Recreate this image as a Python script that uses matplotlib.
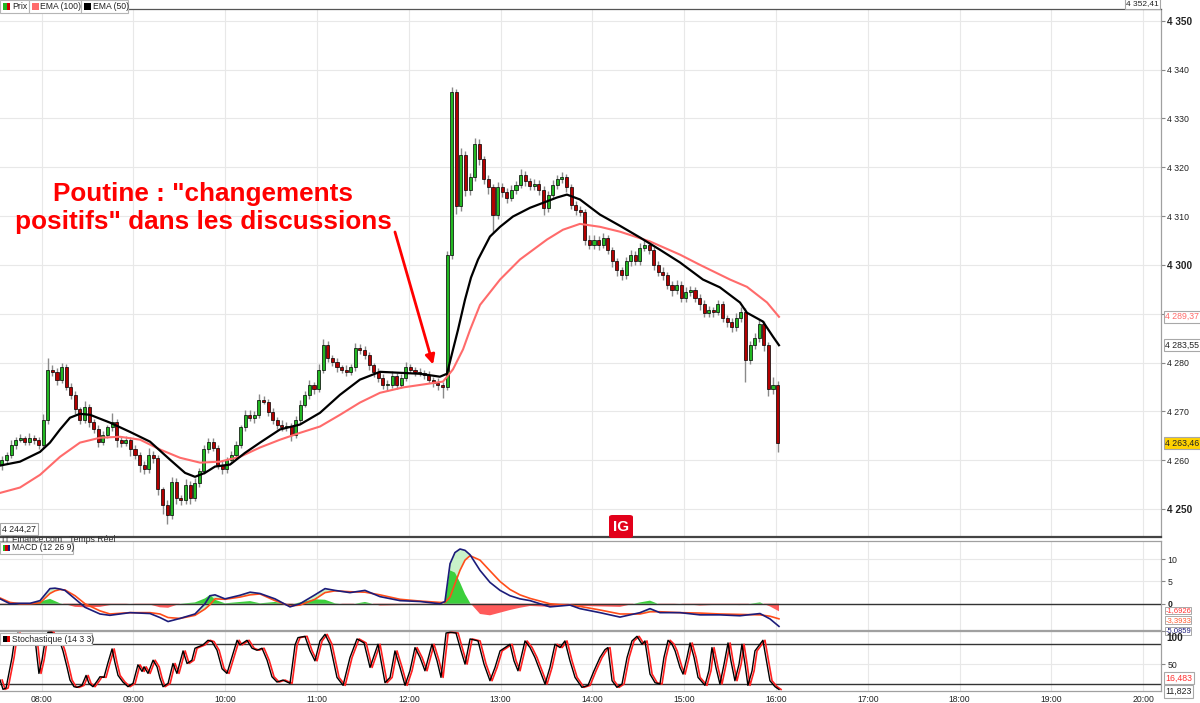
import matplotlib
matplotlib.use("Agg")
import matplotlib.pyplot as plt
import numpy as np
from matplotlib.patches import Rectangle, FancyBboxPatch
from matplotlib.transforms import ScaledTranslation

plt.rcParams["font.family"] = ["Liberation Sans", "DejaVu Sans"]

# all times are minutes after 07:30
candle_start = 4      # first candle 07:34
candle_step = 3       # minutes per candle
first_open = 4259.0
closes = [
    4260.1, 4261.1, 4263.2, 4264.2, 4264.6, 4263.8, 4264.6, 4264.2, 4263.2, 4268.3,
    4278.5, 4278.1, 4276.5, 4279.0, 4274.9, 4273.4, 4270.4, 4268.3, 4270.8, 4267.9,
    4266.3, 4263.8, 4265.2, 4266.7, 4267.9, 4264.2, 4263.6, 4264.2, 4262.2, 4261.1,
    4259.1, 4258.1, 4261.1, 4260.5, 4254.0, 4250.9, 4248.8, 4255.6, 4252.3, 4251.9,
    4255.0, 4252.3, 4255.4, 4257.7, 4262.2, 4263.8, 4262.6, 4259.1, 4258.1, 4260.1,
    4261.1, 4263.2, 4266.7, 4269.3, 4268.7, 4269.3, 4272.4, 4272.0, 4269.9, 4268.3,
    4267.3, 4266.7, 4267.1, 4265.2, 4268.3, 4271.4, 4273.4, 4275.5, 4274.5, 4278.5,
    4283.6, 4281.0, 4280.2, 4279.0, 4278.5, 4278.1, 4279.0, 4283.0, 4282.6, 4281.6,
    4279.5, 4278.1, 4276.9, 4275.5, 4275.5, 4277.3, 4275.5, 4276.9, 4279.0, 4278.5,
    4278.1, 4277.9, 4277.5, 4276.5, 4275.9, 4275.5, 4274.9, 4302.1, 4335.5, 4312.0,
    4322.5, 4315.4, 4317.9, 4324.7, 4321.6, 4317.5, 4315.9, 4310.3, 4315.9, 4315.0,
    4313.8, 4315.4, 4316.4, 4318.5, 4317.1, 4316.2, 4316.6, 4315.4, 4311.7, 4314.4,
    4316.4, 4317.5, 4317.9, 4315.9, 4312.3, 4311.3, 4310.9, 4305.2, 4304.1, 4305.2,
    4304.1, 4305.5, 4303.1, 4300.7, 4299.0, 4298.0, 4300.7, 4302.1, 4300.7, 4303.5,
    4304.1, 4303.1, 4300.0, 4298.6, 4298.0, 4295.9, 4294.9, 4295.9, 4293.3, 4294.5,
    4294.9, 4293.3, 4291.9, 4290.2, 4290.8, 4290.4, 4291.9, 4289.2, 4288.4, 4287.2,
    4289.2, 4290.4, 4280.6, 4283.6, 4285.1, 4287.8, 4283.6, 4274.5, 4275.5, 4263.46,
]
wick_up = [
    0.8, 0.6, 1.0, 0.5, 0.7, 0.4, 0.9, 0.5, 0.6, 1.2,
    2.5, 1.0, 0.8, 1.0, 0.6, 0.9, 0.7, 0.5, 1.4, 0.8,
    0.6, 0.9, 0.7, 0.5, 1.8, 0.6, 0.8, 0.7, 0.5, 0.9,
    0.6, 0.8, 1.5, 0.7, 0.5, 0.6, 0.9, 1.0, 0.8, 0.6,
    1.1, 0.7, 0.9, 0.6, 1.0, 0.8, 0.7, 0.5, 0.9, 0.6,
    0.7, 0.8, 0.6, 1.0, 0.9, 0.7, 1.2, 0.8, 0.6, 0.7,
    0.5, 0.9, 0.7, 0.6, 0.8, 1.0, 0.7, 0.9, 0.6, 1.1,
    1.2, 0.8, 0.6, 0.7, 0.5, 0.9, 0.6, 1.0, 0.8, 0.7,
    0.6, 0.5, 0.8, 0.7, 0.9, 1.0, 0.6, 0.8, 1.2, 0.7,
    0.6, 0.8, 0.5, 0.7, 0.6, 0.9, 0.5, 0.8, 1.0, 0.5,
    1.5, 0.8, 1.0, 1.3, 1.0, 0.8, 0.9, 0.7, 1.0, 0.8,
    0.7, 0.9, 0.8, 1.2, 0.7, 0.6, 0.9, 0.8, 0.7, 0.8,
    1.0, 0.9, 1.1, 0.7, 0.6, 0.8, 0.7, 0.6, 0.9, 1.0,
    0.8, 1.1, 0.7, 0.6, 0.8, 0.5, 0.9, 1.0, 0.7, 0.9,
    1.2, 0.8, 0.6, 0.7, 0.9, 0.6, 0.8, 1.0, 0.7, 0.9,
    0.8, 0.6, 0.7, 0.9, 0.8, 0.6, 1.0, 0.7, 0.5, 0.8,
    0.9, 1.0, 0.8, 0.9, 1.0, 1.2, 0.8, 0.6, 1.5, 0.7,
]
wick_dn = [
    1.0, 0.8, 0.6, 0.9, 0.5, 0.7, 0.6, 0.8, 1.0, 0.7,
    0.8, 0.9, 1.1, 0.7, 0.6, 0.8, 1.0, 0.9, 0.6, 1.2,
    0.8, 1.0, 0.7, 0.6, 0.8, 1.5, 0.9, 0.7, 1.3, 0.8,
    1.6, 0.9, 0.8, 1.0, 1.2, 2.0, 1.8, 0.9, 1.3, 1.0,
    0.8, 1.2, 0.7, 0.9, 0.6, 0.8, 0.7, 1.0, 0.9, 0.8,
    0.6, 0.9, 0.7, 0.8, 0.6, 1.0, 0.7, 0.5, 0.8, 0.9,
    1.0, 0.7, 0.8, 1.2, 0.6, 0.7, 0.5, 0.8, 0.9, 0.6,
    0.7, 0.8, 1.0, 0.9, 0.7, 0.8, 0.6, 0.7, 0.9, 0.8,
    1.0, 1.1, 0.8, 0.9, 1.4, 0.7, 0.9, 0.8, 0.6, 0.7,
    0.8, 0.6, 0.9, 0.7, 1.0, 1.2, 2.1, 0.5, 0.8, 1.5,
    0.9, 1.2, 1.0, 0.8, 1.1, 0.9, 1.3, 3.7, 0.9, 1.0,
    1.1, 0.8, 0.9, 0.7, 1.0, 0.8, 0.9, 1.0, 1.5, 0.8,
    0.7, 0.9, 0.8, 1.0, 0.9, 1.1, 0.8, 1.2, 0.9, 0.8,
    1.0, 0.7, 0.9, 1.1, 1.3, 1.0, 0.8, 0.9, 0.7, 0.8,
    0.6, 0.9, 1.0, 0.8, 1.1, 0.9, 1.2, 0.8, 1.0, 0.9,
    0.8, 1.0, 1.1, 0.9, 0.8, 1.0, 0.7, 0.9, 1.2, 1.0,
    0.8, 0.9, 4.6, 1.0, 0.8, 0.9, 1.2, 1.4, 1.0, 1.8,
]

ema50_t = [2.8, 15.8, 28.9, 35.4, 42.0, 48.5, 55.0, 61.6, 68.1, 74.6,
           87.7, 100.8, 113.9, 123.7, 130.2, 136.7, 143.3, 153.1, 162.9, 172.7,
           185.8, 198.8, 211.9, 225.0, 238.0, 251.1, 264.2, 277.3, 290.3, 294.9,
           298.8, 302.1, 306.7, 310.6, 315.2, 323.0, 329.6, 338.0, 349.2, 357.6,
           366.8, 373.3, 381.8, 394.9, 408.0, 421.1, 434.1, 447.2, 462.2, 473.3,
           486.4, 491.0, 501.4, 508.0, 511.9]
ema50 = [4258.9, 4259.7, 4261.7, 4263.6, 4266.3, 4268.7, 4269.5, 4269.3, 4268.5, 4267.7,
         4265.8, 4263.8, 4260.1, 4257.4, 4256.6, 4257.4, 4258.7, 4259.1, 4261.5, 4263.6,
         4266.3, 4267.3, 4269.7, 4273.4, 4276.5, 4278.1, 4277.9, 4277.7, 4277.1, 4277.7,
         4282.6, 4286.7, 4292.9, 4297.4, 4301.1, 4305.8, 4307.8, 4309.9, 4311.7, 4312.7,
         4313.8, 4314.4, 4313.4, 4310.3, 4308.0, 4305.6, 4303.1, 4300.5, 4297.0, 4295.4,
         4292.3, 4290.2, 4288.4, 4285.3, 4283.55]

ema100_t = [2.8, 15.8, 28.9, 42.0, 55.0, 68.1, 81.2, 94.3, 107.3, 120.4,
            133.5, 146.5, 159.6, 172.7, 185.8, 198.8, 211.9, 225.0, 238.0, 251.1,
            266.1, 279.2, 292.3, 298.8, 305.4, 310.0, 316.5, 329.6, 342.6, 360.3,
            370.7, 381.8, 394.9, 408.0, 427.6, 447.2, 460.3, 479.9, 491.0, 504.1,
            511.9]
ema100 = [4253.3, 4254.4, 4257.0, 4260.7, 4263.6, 4264.6, 4264.8, 4264.2, 4262.2, 4260.5,
          4259.5, 4259.7, 4260.7, 4262.6, 4264.2, 4265.6, 4266.9, 4269.3, 4271.8, 4273.8,
          4274.9, 4275.5, 4276.1, 4278.6, 4282.7, 4286.7, 4291.8, 4297.0, 4301.1, 4305.2,
          4307.2, 4308.4, 4307.8, 4306.8, 4304.8, 4302.1, 4300.0, 4297.0, 4295.5, 4292.3,
          4289.37]

macd_t = [2.8, 9.3, 15.8, 22.4, 28.9, 35.4, 38.7, 42.0, 45.2, 51.8,
          58.3, 68.1, 74.6, 87.7, 100.8, 107.3, 112.6, 120.4, 130.2, 136.7,
          140.0, 143.3, 149.8, 159.6, 166.2, 172.7, 182.5, 192.3, 198.8, 208.6,
          215.2, 221.7, 231.5, 241.3, 251.1, 264.2, 277.3, 290.3, 293.6, 296.9,
          300.1, 303.4, 306.7, 310.0, 316.5, 323.0, 329.6, 336.1, 342.6, 349.2,
          355.7, 362.2, 368.8, 375.3, 381.8, 394.9, 408.0, 421.1, 427.6, 434.1,
          447.2, 460.3, 473.3, 486.4, 499.5, 506.0, 511.9]
macd = [1.1, 0.0, 0.1, 0.1, 0.7, 3.4, 3.5, 3.3, 3.0, 1.1,
        -0.8, -2.3, -2.6, -2.0, -2.2, -3.1, -4.0, -3.3, -2.3, 0.0,
        1.8, 2.0, 1.1, 1.9, 2.6, 2.3, 1.1, -0.7, 0.0, 2.0,
        3.4, 3.0, 2.5, 3.0, 1.6, 0.7, 0.5, 0.0, 0.5, 9.0,
        11.5, 12.3, 12.0, 11.0, 7.5, 4.8, 3.0, 1.8, 1.1, 0.7,
        0.0, -0.7, -0.5, -0.3, -1.1, -2.0, -3.0, -2.0, -1.1, -2.0,
        -2.0, -2.5, -2.5, -2.7, -2.2, -3.4, -5.0859]
macd_signal = [1.3, 0.3, 0.0, 0.0, 0.2, 2.3, 2.9, 3.2, 3.1, 1.8,
               0.0, -1.6, -2.3, -2.0, -2.0, -2.3, -3.1, -3.3, -2.6, -1.2,
               -0.2, 1.1, 1.0, 1.5, 2.0, 2.2, 0.7, -0.5, -0.3, 1.0,
               2.5, 2.9, 2.7, 2.6, 2.0, 1.0, 0.6, 0.3, 0.3, 1.5,
               4.5, 7.5, 9.8, 10.8, 9.8, 7.4, 5.0, 3.2, 2.0, 1.2,
               0.6, 0.0, -0.2, -0.3, -0.6, -1.4, -2.3, -2.3, -1.8, -1.8,
               -2.0, -2.1, -2.3, -2.4, -2.5, -2.8, -3.3933]

stoch_t = [2.8, 4.7, 6.7, 10.6, 12.6, 14.5, 17.1, 19.1, 21.1, 23.7,
           25.6, 26.9, 28.2, 30.2, 32.2, 34.1, 36.7, 38.7, 41.3, 43.9,
           46.5, 48.5, 51.1, 53.1, 56.3, 59.0, 60.9, 63.5, 66.1, 68.1,
           70.7, 73.3, 76.0, 77.9, 79.9, 83.1, 86.4, 89.7, 92.9, 95.6,
           96.9, 99.5, 102.8, 105.4, 107.3, 109.3, 112.6, 115.8, 118.4, 122.4,
           125.0, 128.2, 130.2, 132.2, 135.4, 138.7, 141.3, 144.6, 147.9, 151.1,
           154.4, 157.7, 159.6, 164.2, 167.5, 170.7, 174.0, 177.3, 180.5, 183.8,
           187.7, 192.3, 195.6, 197.5, 202.1, 205.4, 208.6, 211.9, 215.2, 218.4,
           223.0, 227.0, 231.5, 236.1, 240.7, 244.6, 249.8, 254.4, 257.7, 260.9,
           264.2, 267.5, 270.7, 274.0, 277.3, 280.5, 285.1, 288.4, 291.0, 294.3,
           296.9, 300.8, 304.1, 306.7, 310.0, 315.2, 319.1, 323.0, 326.3, 329.6,
           332.8, 336.1, 338.7, 341.3, 345.9, 349.2, 352.4, 355.7, 359.0, 362.2,
           365.5, 368.8, 372.0, 375.3, 378.6, 383.1, 387.1, 391.0, 394.9, 398.2,
           400.1, 402.8, 406.0, 409.3, 412.6, 415.8, 419.1, 422.4, 424.3, 427.6,
           430.9, 434.1, 436.7, 439.4, 442.0, 444.0, 447.2, 449.2, 451.8, 453.8,
           456.4, 459.0, 463.5, 466.1, 468.1, 470.7, 473.3, 476.0, 478.6, 480.5,
           483.1, 485.8, 487.7, 489.7, 491.6, 494.3, 496.2, 498.8, 501.4, 504.1,
           506.0, 509.3, 511.9]
stoch_k = [26, 12, 14, 60, 92, 97, 80, 85, 96, 80,
           90, 62, 36, 56, 85, 98, 98, 80, 88, 70,
           46, 26, 16, 15, 18, 33, 21, 16, 24, 31,
           30, 52, 73, 52, 33, 23, 16, 21, 49, 39,
           46, 36, 56, 46, 29, 16, 21, 51, 36, 70,
           51, 56, 74, 76, 79, 86, 84, 71, 43, 36,
           61, 86, 79, 86, 74, 71, 74, 56, 31, 23,
           26, 21, 79, 90, 92, 70, 55, 85, 95, 80,
           30, 18, 60, 88, 82, 45, 80, 22, 30, 70,
           45, 18, 40, 75, 60, 40, 80, 55, 30, 97,
           98, 97, 70, 50, 88, 85, 50, 25, 45, 70,
           75, 80, 55, 40, 85, 75, 60, 40, 20, 45,
           80, 75, 85, 55, 30, 15, 18, 40, 60, 72,
           75, 25, 15, 20, 60, 85, 92, 80, 85, 35,
           22, 20, 60, 86, 80, 70, 45, 35, 60, 82,
           60, 30, 18, 40, 75, 45, 20, 50, 82, 55,
           25, 50, 80, 50, 18, 40, 70, 78, 86, 50,
           25, 16, 11.823]
stoch_d_last = 16.483

price_low, price_high = 4244.27, 4352.41
hour_labels = ["08:00", "09:00", "10:00", "11:00", "12:00", "13:00", "14:00",
               "15:00", "16:00", "17:00", "18:00", "19:00", "20:00"]

W, H = 1200, 703


def fx(px):
    return px / W


def fy(py):
    return 1 - py / H


def fr(v, d):
    return f"{v:,.{d}f}".replace(",", " ").replace(".", ",")


fig = plt.figure(figsize=(W / 100, H / 100), dpi=100)
ax = fig.add_axes([0, fy(537), fx(1161), (537 - 9) / H])
axm = fig.add_axes([0, fy(630), fx(1161), (630 - 541) / H])
axs = fig.add_axes([0, fy(691), fx(1161), (691 - 631) / H])

hours = 30 + 60 * np.arange(len(hour_labels))
for a in (ax, axm, axs):
    a.set_xlim(2.75, 761.6)
    a.set_xticks(hours)
    a.grid(True, color="#e8e8e8", lw=0.8)
    a.set_axisbelow(True)
    a.yaxis.tick_right()
    a.tick_params(axis="x", length=0, labelbottom=False)
    a.tick_params(axis="y", direction="out", length=3, width=0.8, color="#888",
                  labelsize=6.3, pad=1.5, labelcolor="#222")
    a.spines["left"].set_visible(False)
    for s in ("top", "bottom", "right"):
        a.spines[s].set_color("#a0a0a0")
        a.spines[s].set_linewidth(0.9)

# ---- price panel
t = candle_start + candle_step * np.arange(len(closes))
c = np.array(closes)
o = np.r_[first_open, c[:-1]]
hi = np.maximum(o, c) + np.array(wick_up)
lo = np.minimum(o, c) - np.array(wick_dn)
up = c >= o
body = np.maximum(np.abs(c - o), 0.15)

ax.vlines(t, lo, hi, color="#8a8a8a", lw=1.0, zorder=2)
ax.bar(t[up], body[up], bottom=o[up], width=2.0, color="#22b822",
       edgecolor="black", lw=0.5, zorder=3)
ax.bar(t[~up], body[~up], bottom=c[~up], width=2.0, color="#b30000",
       edgecolor="black", lw=0.5, zorder=3)
ax.plot(ema100_t, ema100, color="#ff6b6b", lw=1.5, zorder=4)
ax.plot(ema50_t, ema50, color="black", lw=1.6, zorder=5)

ax.set_ylim(price_low, price_high)
yt = np.arange(4250, 4351, 10)
ax.set_yticks(yt)
# the 4 290 label sits under the EMA(100) value box, as in the source chart
ax.set_yticklabels(["" if v == 4290 else fr(v, 0) for v in yt])
for lab, v in zip(ax.get_yticklabels(), yt):
    if v % 50 == 0:
        lab.set_fontweight("bold")
        lab.set_fontsize(7.2)
ax.spines["top"].set_color("#555")
ax.spines["bottom"].set_color("#444")
ax.spines["bottom"].set_linewidth(1.6)

box = dict(boxstyle="square,pad=0.18", fc="white", ec="#a8a8a8", lw=0.8)
for val, col, fc in [(ema100[-1], "#ff6b6b", "white"), (ema50[-1], "#222", "white"),
                     (closes[-1], "#222", "#ffd200")]:
    ax.annotate(fr(val, 2), xy=(1.0, val), xycoords=("axes fraction", "data"),
                xytext=(3, 0), textcoords="offset points", va="center", ha="left",
                fontsize=6.3, color=col, annotation_clip=False, zorder=10,
                bbox=dict(boxstyle="square,pad=0.18", fc=fc, ec="#a8a8a8", lw=0.8))

fig.text(fx(1126), fy(4), fr(price_high, 2), fontsize=6.0, color="#222",
         va="center", ha="left", bbox=box, zorder=10)
fig.text(fx(2), fy(529), fr(price_low, 2), fontsize=6.3, color="#222",
         va="center", ha="left", bbox=box, zorder=10)
fig.text(fx(2), fy(539), "IT Finance.com   Temps Réel", fontsize=6.3,
         color="#333", va="center", ha="left")

# annotation
ax.text(0.1749, 0.623, "Poutine : \"changements\npositifs\" dans les discussions",
        transform=ax.transAxes, ha="center", va="center", color="#ff0000",
        fontsize=18.8, fontweight="bold", linespacing=1.22, zorder=8)
ax.annotate("", xy=(285.8, 4279.6), xytext=(0.3402, 0.5777),
            textcoords="axes fraction",
            arrowprops=dict(arrowstyle="-|>", color="#ff0000", lw=2,
                            mutation_scale=14, shrinkA=0, shrinkB=0), zorder=8)

# IG logo
fig.patches.append(FancyBboxPatch((fx(609), fy(538)), fx(24), 23 / H,
                                  boxstyle="round,pad=0,rounding_size=0.003",
                                  transform=fig.transFigure, fc="#e2001a",
                                  ec="none", zorder=9))
fig.text(fx(621), fy(527), "IG", color="white", fontsize=11, fontweight="bold",
         ha="center", va="center", zorder=10)

# legend boxes
def label_box(x0, x1, y0, y1, text, colors, tx):
    fig.patches.append(Rectangle((fx(x0), fy(y1)), fx(x1 - x0), (y1 - y0) / H,
                                 transform=fig.transFigure, fc="white",
                                 ec="#b5b5b5", lw=0.8, zorder=11))
    n = len(colors)
    for i, col in enumerate(colors):
        fig.patches.append(Rectangle((fx(x0 + 3 + i * 7.0 / n), fy(y1 - 3)),
                                     fx(7.0 / n), (y1 - y0 - 6) / H,
                                     transform=fig.transFigure, fc=col,
                                     ec="none", zorder=12))
    fig.text(fx(tx), fy((y0 + y1) / 2), text, fontsize=6.2, color="#222",
             va="center", ha="left", zorder=12)


label_box(0, 29, 0, 13, "Prix", ["#22b822", "#d00000"], 12)
label_box(29, 81, 0, 13, "EMA (100)", ["#ff6b6b"], 40)
label_box(81, 128, 0, 13, "EMA (50)", ["#000000"], 93)
label_box(0, 73, 542, 554, "MACD (12 26 9)", ["#22b822", "#d00000", "#1c1c7a"], 12)
label_box(0, 92, 633, 645, "Stochastique (14 3 3)", ["#000000", "#e00000"], 12)

# ---- MACD panel
mt = np.array(macd_t)
mv = np.array(macd)
ms = np.array(macd_signal)
hist = mv - ms
axm.fill_between(mt, mv, ms, where=mv >= ms, interpolate=True,
                 color="#c9f2c9", lw=0, zorder=1)
axm.fill_between(mt, 0, hist, where=hist >= 0, interpolate=True,
                 color="#3ccf3c", lw=0, zorder=2)
axm.fill_between(mt, 0, hist, where=hist < 0, interpolate=True,
                 color="#ff5a5a", lw=0, zorder=2)
axm.axhline(0, color="#333", lw=1.0, zorder=3)
axm.plot(mt, ms, color="#ff4d1a", lw=1.2, zorder=4)
axm.plot(mt, mv, color="#1c1c7a", lw=1.2, zorder=5)
axm.set_ylim(-5.9, 14.1)
axm.set_yticks([0, 5, 10])
axm.set_yticklabels(["0", "5", "10"])
axm.get_yticklabels()[0].set_fontweight("bold")
sbox = dict(boxstyle="square,pad=0.05", fc="white", ec="#a8a8a8", lw=0.7)
for val, col, dy in [(hist[-1], "#ff3030", 0.5), (ms[-1], "#ff5a30", -1.0),
                     (mv[-1], "#1c1c7a", -3.2)]:
    axm.annotate(fr(val, 4), xy=(1.0, val), xycoords=("axes fraction", "data"),
                 xytext=(3, dy), textcoords="offset points", va="center",
                 ha="left", fontsize=5.5, color=col, annotation_clip=False,
                 zorder=10, bbox=sbox)

# ---- stochastic panel
shift = ScaledTranslation(1.5 / 72, 0, fig.dpi_scale_trans)
axs.plot(stoch_t, stoch_k, color="#ff2020", lw=1.2, zorder=3,
         transform=axs.transData + shift)
axs.plot(stoch_t, stoch_k, color="black", lw=1.0, zorder=4)
axs.axhline(80, color="#333", lw=1.0, zorder=2)
axs.axhline(20, color="#333", lw=1.0, zorder=2)
axs.set_ylim(9.5, 100)
axs.set_yticks([50, 100])
axs.set_yticklabels(["50", ""])
axs.annotate("100", xy=(1.0, 100), xycoords=("axes fraction", "data"),
             xytext=(4, -5), textcoords="offset points", va="center",
             ha="left", fontsize=7.2, fontweight="bold", color="#222",
             annotation_clip=False)
axs.annotate(fr(stoch_d_last, 3), xy=(1.0, stoch_d_last),
             xycoords=("axes fraction", "data"), xytext=(3, 6),
             textcoords="offset points", va="center", ha="left", fontsize=6.3,
             color="#ff3030", annotation_clip=False, zorder=10, bbox=box)
axs.annotate(fr(stoch_k[-1], 3), xy=(1.0, stoch_k[-1]),
             xycoords=("axes fraction", "data"), xytext=(3, -1.5),
             textcoords="offset points", va="center", ha="left", fontsize=6.3,
             color="#222", annotation_clip=False, zorder=10, bbox=box)
axs.tick_params(axis="x", labelbottom=True, labelsize=6.2, pad=3,
                labelcolor="#222")
axs.set_xticklabels(hour_labels)

fig.savefig("out.png", dpi=100)
